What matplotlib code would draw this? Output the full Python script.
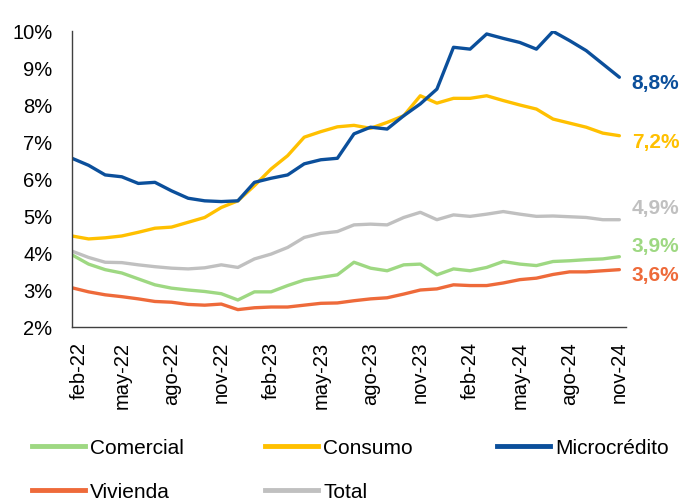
import numpy as np
import matplotlib.pyplot as plt
import matplotlib.transforms as mtransforms
from matplotlib.lines import Line2D

plt.rcParams['font.family'] = ['Liberation Sans', 'DejaVu Sans']

# tasas mensuales (%), feb-22 a nov-24
comercial = [3.95, 3.70, 3.55, 3.46, 3.30, 3.14, 3.05, 3.00, 2.96, 2.90, 2.73, 2.95,
             2.95, 3.12, 3.27, 3.34, 3.41, 3.75, 3.59, 3.52, 3.68, 3.70, 3.41, 3.57,
             3.52, 3.61, 3.77, 3.70, 3.66, 3.77, 3.79, 3.82, 3.84, 3.90]
consumo = [4.46, 4.38, 4.41, 4.46, 4.56, 4.67, 4.70, 4.83, 4.96, 5.23, 5.41, 5.82,
           6.27, 6.63, 7.13, 7.28, 7.41, 7.45, 7.37, 7.53, 7.71, 8.25, 8.05, 8.18,
           8.18, 8.25, 8.12, 8.00, 7.89, 7.62, 7.51, 7.40, 7.24, 7.17]
microcredito = [6.56, 6.37, 6.11, 6.06, 5.88, 5.91, 5.68, 5.48, 5.41, 5.39, 5.41, 5.91,
                6.02, 6.11, 6.41, 6.52, 6.56, 7.22, 7.40, 7.35, 7.71, 8.03, 8.43, 9.56,
                9.51, 9.92, 9.80, 9.69, 9.51, 9.99, 9.74, 9.47, 9.11, 8.75]
vivienda = [3.06, 2.95, 2.87, 2.82, 2.76, 2.69, 2.67, 2.61, 2.59, 2.62, 2.47, 2.52,
            2.54, 2.54, 2.59, 2.64, 2.65, 2.71, 2.76, 2.79, 2.89, 3.00, 3.03, 3.14,
            3.12, 3.12, 3.19, 3.28, 3.32, 3.42, 3.49, 3.49, 3.52, 3.55]
total = [4.05, 3.88, 3.75, 3.74, 3.68, 3.63, 3.59, 3.57, 3.60, 3.68, 3.61, 3.84,
         3.97, 4.15, 4.42, 4.53, 4.58, 4.76, 4.78, 4.76, 4.96, 5.10, 4.90, 5.03,
         4.99, 5.05, 5.12, 5.05, 4.99, 5.00, 4.98, 4.96, 4.90, 4.90]

tick_labels = ['feb-22', 'may-22', 'ago-22', 'nov-22', 'feb-23', 'may-23',
               'ago-23', 'nov-23', 'feb-24', 'may-24', 'ago-24', 'nov-24']
end_labels = ['3,9%', '7,2%', '8,8%', '3,6%', '4,9%']
end_label_y = [4.19, 7.00, 8.62, 3.41, 5.22]

names = ['Comercial', 'Consumo', 'Microcrédito', 'Vivienda', 'Total']
colors = ['#9ED882', '#FFC000', '#0B4F9B', '#EE6A3A', '#C0C0C0']
series = [comercial, consumo, microcredito, vivienda, total]

fig = plt.figure(figsize=(6.81, 5.02), dpi=100)
ax = fig.add_axes([72 / 681, 1 - 328 / 502, 554 / 681, 296 / 502])

x = np.arange(len(total))
for vals, c in zip(series, colors):
    ax.plot(x, vals, color=c, lw=2.4, solid_joinstyle='round', solid_capstyle='round')

for txt, yy, c in zip(end_labels, end_label_y, colors):
    ax.text(33.75, yy, txt, color=c, fontsize=15, fontweight='bold',
            va='center', ha='left', clip_on=False)

ax.set_xlim(0, 33.4)
ax.set_ylim(2, 10)
ax.set_yticks(np.arange(2, 11, 1))
ax.set_yticklabels([f'{v}%' for v in range(2, 11)])
ax.set_xticks(x[::3])
ax.set_xticklabels(tick_labels, rotation=90)
ax.tick_params(axis='both', length=0, labelsize=14.5)
ax.tick_params(axis='y', pad=14)
ax.tick_params(axis='x', pad=10)
# la primera etiqueta va un poco corrida a la derecha
first = ax.get_xticklabels()[0]
first.set_transform(first.get_transform() +
                    mtransforms.ScaledTranslation(0.07, 0, fig.dpi_scale_trans))
for s in ['top', 'right']:
    ax.spines[s].set_visible(False)
for s in ['left', 'bottom']:
    ax.spines[s].set_color('#404040')
    ax.spines[s].set_linewidth(1.0)

# leyenda en tres columnas espaciadas como en el original
col_x = [32, 265, 497]
cols = [[0, 3], [1, 4], [2]]
for cx, idx in zip(col_x, cols):
    handles = [Line2D([], [], color=colors[i], lw=3.5) for i in idx]
    fig.legend(handles, [names[i] for i in idx], loc='upper left',
               bbox_to_anchor=(cx / 681, 1 - 439 / 502), frameon=False,
               fontsize=15, handlelength=2.55, handletextpad=0.25,
               labelspacing=1.2, borderpad=0, borderaxespad=0)

fig.savefig('out.png', dpi=100)
